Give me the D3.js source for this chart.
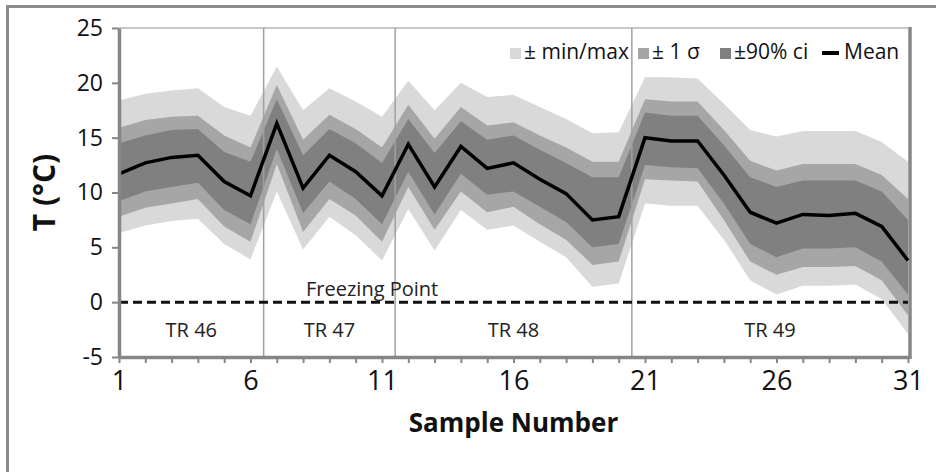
<!DOCTYPE html>
<html>
<head>
<meta charset="utf-8">
<script src="https://cdn.jsdelivr.net/npm/d3@7"></script>
<style>
  body { margin: 0; background: #fff; }
  svg { display: block; font-family: "Open Sans", sans-serif; }
</style>
</head>
<body>
<div id="chart"></div>
<script>
// sample numbers along the transects
var samples = [1,2,3,4,5,6,7,8,9,10,11,12,13,14,15,16,17,18,19,20,21,22,23,24,25,26,27,28,29,30,31];

// temperature statistics (°C)
var meanT = [11.7,12.7,13.2,13.4,11.0,9.7,16.3,10.4,13.4,11.9,9.7,14.4,10.5,14.2,12.2,12.7,11.2,9.9,7.5,7.8,15.0,14.7,14.7,11.6,8.2,7.2,8.0,7.9,8.1,6.9,3.8];
var ciHi  = [14.5,15.2,15.7,15.8,13.7,12.8,18.5,13.4,15.8,14.5,12.7,16.7,13.6,16.5,14.8,15.2,13.9,12.7,11.4,11.4,17.3,17.0,17.0,14.3,11.4,10.5,11.1,11.1,11.1,10.1,7.5];
var ciLo  = [9.2,10.1,10.5,10.9,8.4,7.1,14.0,8.1,11.0,9.4,7.1,11.9,8.0,11.7,9.8,10.1,8.7,7.3,5.0,5.3,12.5,12.3,12.2,9.0,5.3,4.1,4.9,4.9,5.0,3.7,0.7];
var sdHi  = [15.9,16.6,16.9,17.0,15.2,14.1,19.8,14.8,17.1,15.8,14.1,18.0,14.9,17.8,16.1,16.4,15.2,14.1,12.8,12.8,18.5,18.3,18.3,15.7,12.9,12.0,12.6,12.6,12.6,11.6,9.4];
var sdLo  = [7.8,8.6,9.0,9.4,6.9,5.5,12.6,6.4,9.4,7.9,5.5,10.5,6.6,10.1,8.2,8.7,7.1,5.7,3.4,3.7,11.2,11.1,11.0,7.5,3.7,2.5,3.2,3.2,3.3,2.0,-1.2];
var maxT  = [18.4,19.0,19.3,19.5,17.8,17.0,21.5,17.5,19.5,18.3,16.9,20.2,17.5,20.0,18.7,18.9,17.8,16.7,15.4,15.5,20.5,20.5,20.4,18.1,15.7,15.1,15.6,15.6,15.6,14.6,12.8];
var minT  = [6.3,7.0,7.4,7.6,5.3,3.9,10.1,4.8,7.8,6.1,3.8,8.5,4.7,8.4,6.6,7.0,5.5,4.1,1.4,1.7,9.0,8.8,8.8,5.7,2.0,0.7,1.5,1.5,1.6,0.3,-2.9];

// transect segments
var trNames  = ["TR 46", "TR 47", "TR 48", "TR 49"];
var trStart  = [1, 6.5, 11.5, 20.5];
var trEnd    = [6.5, 11.5, 20.5, 31];

var yTicks = [-5, 0, 5, 10, 15, 20, 25];
var xLabels = [1, 6, 11, 16, 21, 26, 31];
var freezing = 0;

var legendNames = ["\u00b1 min/max", "\u00b1 1 \u03c3", "\u00b190% ci", "Mean"];

var width = 936, height = 472;
var axisCol = "#868686";

var svg = d3.select("#chart").append("svg")
    .attr("width", width)
    .attr("height", height);

// outer chart frame
svg.append("rect")
    .attr("x", 7.5).attr("y", 6.5)
    .attr("width", 940).attr("height", 480)
    .attr("fill", "none")
    .attr("stroke", "#8c8c8c")
    .attr("stroke-width", 3);

var x = d3.scaleLinear().domain([1, 31]).range([119, 908]);
var y = d3.scaleLinear().domain([-5, 25]).range([357, 28]);

var rows = samples.map(function (s, i) {
    return {s: s, mean: meanT[i], ciHi: ciHi[i], ciLo: ciLo[i],
        sdHi: sdHi[i], sdLo: sdLo[i], max: maxT[i], min: minT[i]};
});

// bands
var bands = [
    {hi: "max", lo: "min", col: "#d9d9d9"},
    {hi: "sdHi", lo: "sdLo", col: "#a6a6a6"},
    {hi: "ciHi", lo: "ciLo", col: "#808080"}
];
bands.forEach(function (b) {
    var area = d3.area()
        .x(function (d) { return x(d.s); })
        .y0(function (d) { return y(d[b.lo]); })
        .y1(function (d) { return y(d[b.hi]); });
    svg.append("path")
        .datum(rows)
        .attr("d", area)
        .attr("fill", b.col);
});

// plot box: top and right edges
svg.append("line")
    .attr("x1", x(1)).attr("x2", x(31))
    .attr("y1", y(25)).attr("y2", y(25))
    .attr("stroke", "#b4b4b4").attr("stroke-width", 1.5);
svg.append("line")
    .attr("x1", x(31) + 2).attr("x2", x(31) + 2)
    .attr("y1", y(25) - 1).attr("y2", y(-5) + 2)
    .attr("stroke", axisCol).attr("stroke-width", 3.5);

// transect separators
svg.selectAll("line.tr")
    .data(trStart.slice(1))
    .enter().append("line")
    .attr("class", "tr")
    .attr("x1", function (d) { return x(d); })
    .attr("x2", function (d) { return x(d); })
    .attr("y1", y(25)).attr("y2", y(-5))
    .attr("stroke", "#a0a0a0")
    .attr("stroke-width", 1.5);

// transect labels
svg.selectAll("text.tr")
    .data(trNames)
    .enter().append("text")
    .attr("class", "tr")
    .attr("x", function (d, i) { return (x(trStart[i]) + x(trEnd[i])) / 2; })
    .attr("y", (y(0) + y(-5)) / 2 + 2)
    .attr("text-anchor", "middle")
    .attr("dominant-baseline", "middle")
    .attr("font-size", 20)
    .attr("fill", "#222")
    .text(function (d) { return d; });

// freezing point
svg.append("line")
    .attr("x1", x(1)).attr("x2", x(31))
    .attr("y1", y(freezing)).attr("y2", y(freezing))
    .attr("stroke", "#111")
    .attr("stroke-width", 3)
    .attr("stroke-dasharray", "9,5");
svg.append("text")
    .attr("x", 306)
    .attr("y", y(freezing) - 6)
    .attr("font-size", 20)
    .attr("fill", "#222")
    .text("Freezing Point");

// mean line
var line = d3.line()
    .x(function (d) { return x(d.s); })
    .y(function (d) { return y(d.mean); });
svg.append("path")
    .datum(rows)
    .attr("d", line)
    .attr("fill", "none")
    .attr("stroke", "#000")
    .attr("stroke-width", 3.5);

// axes
var yAxis = svg.append("g")
    .attr("transform", "translate(" + x(1) + ",0)")
    .call(d3.axisLeft(y).tickValues(yTicks).tickSize(7).tickSizeOuter(0).tickPadding(9)
        .tickFormat(function (d) { return String(d); }));
var xAxis = svg.append("g")
    .attr("transform", "translate(0," + y(-5) + ")")
    .call(d3.axisBottom(x).tickValues(samples).tickSize(6).tickSizeOuter(0).tickPadding(8)
        .tickFormat(function (d) { return xLabels.indexOf(d) >= 0 ? d : ""; }));

[yAxis, xAxis].forEach(function (g) {
    g.select(".domain").attr("stroke", axisCol).attr("stroke-width", 3.5);
    g.selectAll(".tick line").attr("stroke", axisCol).attr("stroke-width", 2);
    g.selectAll("text").attr("fill", "#111").attr("font-family", "Open Sans, sans-serif");
});
yAxis.selectAll("text").attr("font-size", 23);
xAxis.selectAll("text").attr("font-size", 27);

// axis titles
svg.append("text")
    .attr("x", (x(1) + x(31)) / 2)
    .attr("y", 432)
    .attr("text-anchor", "middle")
    .attr("font-size", 26)
    .attr("font-weight", "bold")
    .attr("fill", "#111")
    .text("Sample Number");
svg.append("text")
    .attr("transform", "translate(55," + (y(25) + y(-5)) / 2 + ") rotate(-90)")
    .attr("text-anchor", "middle")
    .attr("font-size", 30)
    .attr("font-weight", "bold")
    .attr("fill", "#111")
    .text("T (\u00b0C)");

// legend
var legendX = [510, 638, 720, 822];
var legendCol = ["#d9d9d9", "#a6a6a6", "#808080", "#000"];
var leg = svg.selectAll("g.legend")
    .data(legendNames)
    .enter().append("g")
    .attr("class", "legend")
    .attr("transform", function (d, i) { return "translate(" + legendX[i] + ",0)"; });
leg.each(function (d, i) {
    var g = d3.select(this);
    if (i < 3) {
        g.append("rect").attr("x", 0).attr("y", 48).attr("width", 11).attr("height", 11)
            .attr("fill", legendCol[i]);
        g.append("text").attr("x", 14).attr("y", 59).attr("font-size", 21).attr("fill", "#111").text(d);
    } else {
        g.append("line").attr("x1", 0).attr("x2", 17).attr("y1", 53).attr("y2", 53)
            .attr("stroke", "#000").attr("stroke-width", 4);
        g.append("text").attr("x", 22).attr("y", 59).attr("font-size", 21).attr("fill", "#111").text(d);
    }
});
</script>
</body>
</html>
